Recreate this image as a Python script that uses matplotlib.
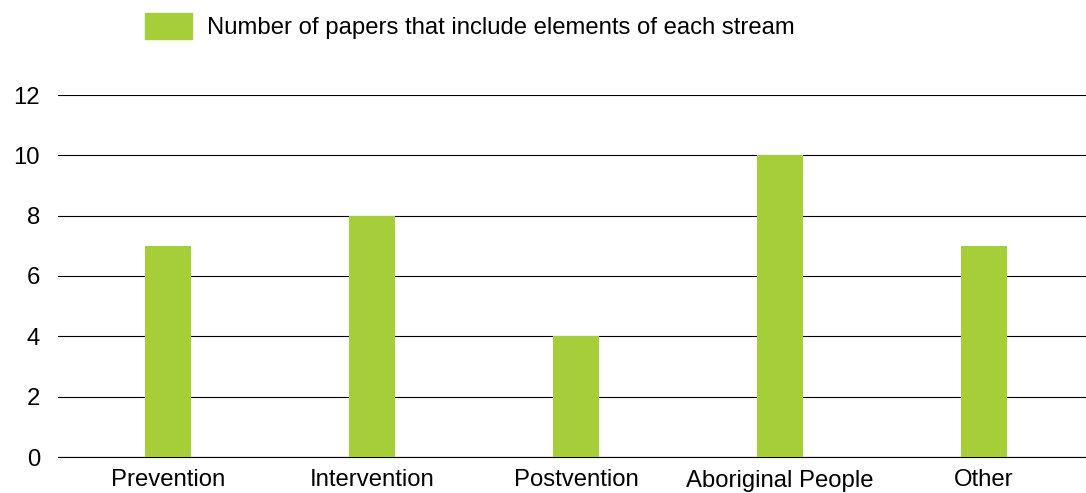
import matplotlib
matplotlib.use("Agg")
import matplotlib.pyplot as plt
from matplotlib.patches import Patch

categories = ["Prevention", "Intervention", "Postvention", "Aboriginal People", "Other"]
values = [7, 8, 4, 10, 7]
yticks = [0, 2, 4, 6, 8, 10, 12]
series_label = "Number of papers that include elements of each stream"

plt.rcParams['font.family'] = ['Liberation Sans', 'DejaVu Sans']
green = "#A6CE39"
fs = 17.2

fig = plt.figure(figsize=(10.86, 4.93), dpi=100)
ax = fig.add_axes([58/1086, 1-457/493, 1-58/1086, (457-95)/493])
x = list(range(len(categories)))
ax.bar(x, values, width=0.225, color=green, zorder=3)
ax.set_xlim(-0.54, 4.5)
ax.set_ylim(0, 12)
ax.set_yticks(yticks)
ax.yaxis.grid(True, color="black", linewidth=0.8, zorder=0)
ax.set_axisbelow(True)
for s in ["left", "right", "top"]:
    ax.spines[s].set_visible(False)
ax.spines["bottom"].set_color("black")
ax.spines["bottom"].set_linewidth(0.8)
ax.set_xticks(x)
ax.set_xticklabels(categories, fontsize=fs)
ax.tick_params(axis="y", length=0, pad=13, labelsize=fs)
ax.tick_params(axis="x", length=0, pad=9)

fig.legend(handles=[Patch(color=green, label=series_label)],
           loc="center left", bbox_to_anchor=(145/1086, 1-26/493),
           frameon=False, fontsize=fs, handlelength=1.95, handleheight=1.3,
           handletextpad=0.64, borderpad=0, borderaxespad=0)
fig.savefig("out.png", dpi=100)
